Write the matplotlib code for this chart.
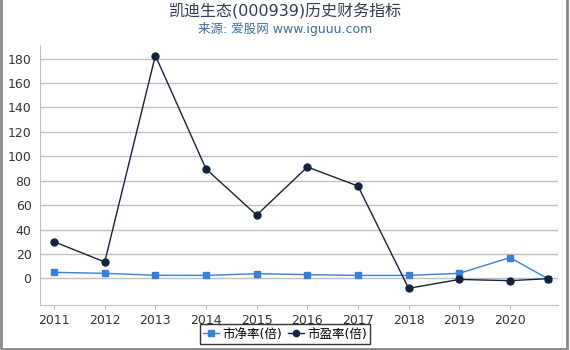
import matplotlib.pyplot as plt
from matplotlib.patches import Rectangle

plt.rcParams['font.family'] = ['DejaVu Sans', 'Noto Sans CJK SC']

# report dates as fractional years
x = [2011, 2012, 2013, 2014, 2015, 2016, 2017, 2018, 2019, 2020, 2020.75]
pb = [4.9, 4.1, 2.5, 2.4, 3.8, 3.0, 2.4, 2.4, 4.1, 17.0, -0.3]
pe = [30.0, 13.4, 182.5, 89.6, 51.8, 91.2, 75.6, -8.2, -0.9, -1.9, -0.3]
years = list(range(2011, 2021))

fig = plt.figure(figsize=(5.7, 3.5), dpi=100)
ax = fig.add_axes([0.07, 0.128, 0.909, 0.743])

ax.plot(x, pb, color='#3a80d8', marker='s', markersize=5, linewidth=1, label='市净率(倍)')
ax.plot(x, pe, color='#15233a', marker='o', markersize=5, linewidth=1, label='市盈率(倍)')

ax.set_xlim(2010.72, 2020.95)
ax.set_ylim(-22, 191)
ax.set_xticks(years)
ax.set_xticklabels([str(y) for y in years])
ax.set_yticks(range(0, 181, 20))
ax.tick_params(axis='both', colors='#333333', labelsize=9)
ax.tick_params(axis='y', length=0, pad=6)
ax.tick_params(axis='x', length=3, color='#bbbbbb')
ax.grid(axis='y', color='#c0c0c0', linewidth=1)
ax.set_axisbelow(True)
for s in ['top', 'right']:
    ax.spines[s].set_visible(False)
for s in ['left', 'bottom']:
    ax.spines[s].set_color('#c0c0c0')

fig.text(0.5, 0.968, '凯迪生态(000939)历史财务指标', ha='center', va='center',
         fontsize=11.5, color='#2f3d55')
fig.text(0.5, 0.918, '来源: 爱股网 www.iguuu.com', ha='center', va='center',
         fontsize=9, color='#3f6a98')

leg = fig.legend(loc='upper center', bbox_to_anchor=(0.5, 0.073), ncol=2,
                 fontsize=9, frameon=True, fancybox=False, handlelength=1.3,
                 handletextpad=0.3, columnspacing=0.4, borderpad=0.25,
                 borderaxespad=0, markerscale=0.9)
leg.get_frame().set_edgecolor('black')
leg.get_frame().set_linewidth(1)

fig.patches.append(Rectangle((0.001, 0.004), 0.994, 1.2, transform=fig.transFigure,
                             fill=False, edgecolor='#888888', linewidth=2))

plt.savefig('out.png')
